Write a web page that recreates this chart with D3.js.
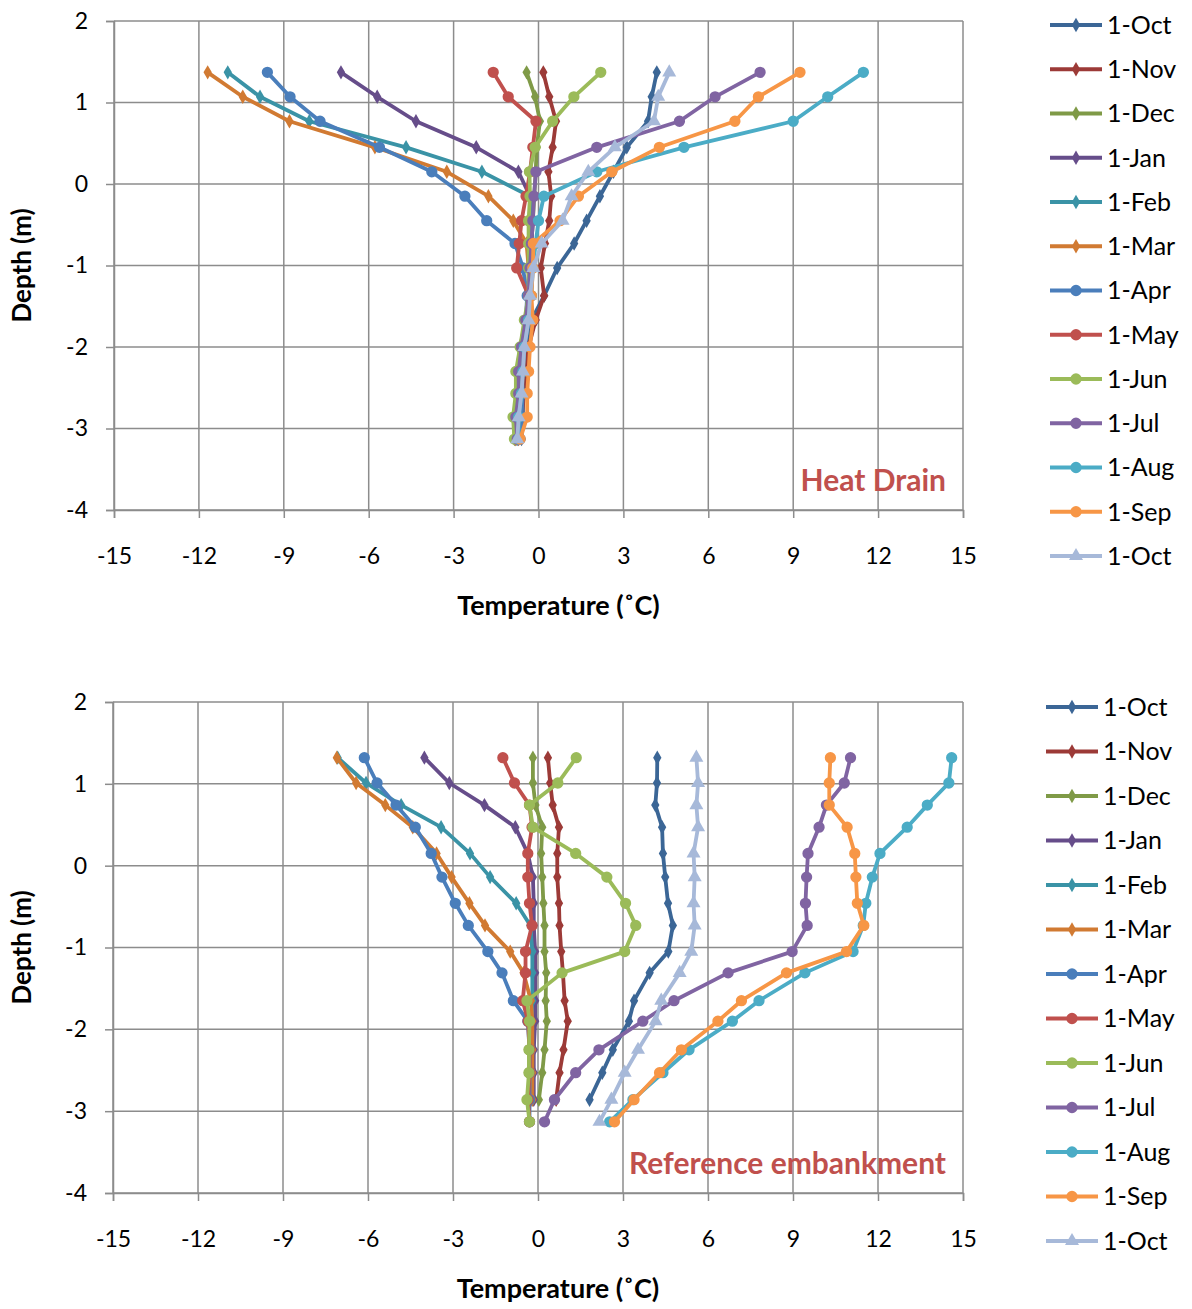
<!DOCTYPE html>
<html>
<head>
<meta charset="utf-8">
<script src="https://cdn.jsdelivr.net/npm/d3@7"></script>
<style>
  body { margin: 0; background: #fff; }
  text { font-family: Lato, "Open Sans", sans-serif; fill: #000; }
</style>
</head>
<body>
<div id="chart"></div>
<script>
// months of the profiles (legend order)
const months = ['1-Oct', '1-Nov', '1-Dec', '1-Jan', '1-Feb', '1-Mar', '1-Apr',
                '1-May', '1-Jun', '1-Jul', '1-Aug', '1-Sep', '1-Oct'];
const colors = ['#3b6696', '#9c3a37', '#7f9a47', '#664d8a', '#3a93a6', '#d17a32', '#4a7ebb',
                '#c0504d', '#9bbb59', '#8064a2', '#4bacc6', '#f79646', '#a7b9d9'];
const shapes = ['diamond', 'diamond', 'diamond', 'diamond', 'diamond', 'diamond', 'circle',
                'circle', 'circle', 'circle', 'circle', 'circle', 'triangle'];

const xTicks = [-15, -12, -9, -6, -3, 0, 3, 6, 9, 12, 15];
const yTicks = [2, 1, 0, -1, -2, -3, -4];

// Heat drain depths (m) and temperatures (C), one array per month
const depthsDrain = [1.37, 1.07, 0.77, 0.45, 0.15, -0.15, -0.45, -0.73, -1.03, -1.37, -1.67, -2.0, -2.3, -2.57, -2.86, -3.13];
const drainOct = [4.18, 4.0, 3.87, 3.12, 2.65, 2.17, 1.7, 1.26, 0.66, 0.2, -0.25, -0.45, -0.5, -0.55, -0.55, -0.6];
const drainNov = [0.17, 0.38, 0.62, 0.5, 0.35, 0.45, 0.38, 0.23, 0.08, 0.2, -0.1, -0.35, -0.45, -0.5, -0.6, -0.7];
const drainDec = [-0.42, -0.12, 0.05, -0.06, -0.1, -0.15, -0.2, -0.25, -0.3, -0.3, -0.45, -0.65, -0.75, -0.75, -0.85, -0.85];
const drainJan = [-6.98, -5.7, -4.33, -2.2, -0.71, -0.3, -0.2, -0.25, -0.3, -0.3, -0.4, -0.6, -0.7, -0.75, -0.8, -0.8];
const drainFeb = [-10.98, -9.84, -8.1, -4.68, -2.0, -0.3, -0.25, -0.3, -0.3, -0.3, -0.4, -0.55, -0.6, -0.7, -0.7, -0.75];
const drainMar = [-11.69, -10.45, -8.8, -5.78, -3.24, -1.77, -0.89, -0.42, -0.35, -0.35, -0.4, -0.55, -0.65, -0.7, -0.75, -0.8];
const drainApr = [-9.58, -8.78, -7.72, -5.62, -3.77, -2.6, -1.83, -0.83, -0.55, -0.4, -0.45, -0.55, -0.6, -0.55, -0.6, -0.65];
const drainMay = [-1.6, -1.07, -0.09, -0.2, -0.3, -0.44, -0.6, -0.68, -0.77, -0.35, -0.45, -0.55, -0.65, -0.7, -0.75, -0.8];
const drainJun = [2.2, 1.25, 0.5, -0.12, -0.32, -0.3, -0.35, -0.35, -0.35, -0.35, -0.5, -0.65, -0.8, -0.8, -0.9, -0.85];
const drainJul = [7.83, 6.24, 4.98, 2.06, -0.09, -0.16, -0.2, -0.25, -0.3, -0.35, -0.45, -0.6, -0.7, -0.7, -0.8, -0.75];
const drainAug = [11.48, 10.22, 9.0, 5.14, 2.06, 0.19, 0.0, -0.1, -0.2, -0.25, -0.35, -0.5, -0.55, -0.6, -0.7, -0.7];
const drainSep = [9.24, 7.77, 6.94, 4.27, 2.59, 1.41, 0.76, -0.18, -0.2, -0.25, -0.2, -0.3, -0.35, -0.4, -0.4, -0.65];
const drainOct2 = [4.62, 4.23, 4.08, 2.7, 1.76, 1.17, 0.85, 0.11, -0.18, -0.3, -0.35, -0.5, -0.55, -0.6, -0.7, -0.75];

// Reference embankment
const depthsRef = [1.32, 1.01, 0.74, 0.47, 0.15, -0.14, -0.46, -0.73, -1.05, -1.31, -1.65, -1.9, -2.25, -2.53, -2.86, -3.13];
const refOct = [4.21, 4.2, 4.14, 4.38, 4.41, 4.49, 4.59, 4.76, 4.6, 3.94, 3.39, 3.21, 2.64, 2.27, 1.82, null];
const refNov = [0.35, 0.43, 0.52, 0.74, 0.68, 0.68, 0.74, 0.76, 0.82, 0.88, 0.94, 1.05, 0.9, 0.76, 0.64, null];
const refDec = [-0.18, -0.18, -0.09, 0.15, 0.11, 0.15, 0.19, 0.23, 0.23, 0.29, 0.27, 0.31, 0.23, 0.15, 0.03, null];
const refJan = [-4.01, -3.13, -1.89, -0.8, -0.36, -0.18, -0.15, -0.15, -0.1, -0.1, -0.1, -0.1, -0.15, -0.15, -0.15, null];
const refFeb = [-7.07, -6.07, -4.83, -3.42, -2.4, -1.69, -0.77, -0.27, -0.2, -0.2, -0.2, -0.25, -0.25, -0.25, -0.25, null];
const refMar = [-7.1, -6.42, -5.39, -4.42, -3.58, -3.05, -2.42, -1.87, -0.98, -0.51, -0.25, -0.2, -0.2, -0.2, -0.2, null];
const refApr = [-6.13, -5.68, -5.01, -4.33, -3.77, -3.39, -2.92, -2.46, -1.77, -1.27, -0.87, -0.36, -0.3, -0.3, -0.3, -0.3];
const refMay = [-1.24, -0.83, -0.3, -0.21, -0.36, -0.36, -0.3, -0.21, -0.44, -0.44, -0.54, -0.35, -0.3, -0.3, -0.35, -0.3];
const refJun = [1.35, 0.7, -0.3, -0.18, 1.33, 2.43, 3.09, 3.45, 3.06, 0.85, -0.39, -0.3, -0.32, -0.32, -0.39, -0.3];
const refJul = [11.03, 10.81, 10.18, 9.92, 9.53, 9.48, 9.44, 9.5, 8.97, 6.71, 4.8, 3.7, 2.15, 1.33, 0.58, 0.23];
const refAug = [14.6, 14.5, 13.74, 13.03, 12.07, 11.8, 11.57, 11.48, 11.12, 9.42, 7.8, 6.86, 5.33, 4.41, 3.35, 2.53];
const refSep = [10.32, 10.28, 10.28, 10.91, 11.18, 11.22, 11.27, 11.5, 10.89, 8.77, 7.18, 6.35, 5.06, 4.29, 3.39, 2.7];
const refOct2 = [5.59, 5.65, 5.59, 5.65, 5.49, 5.53, 5.49, 5.53, 5.41, 5.0, 4.35, 4.15, 3.53, 3.06, 2.59, 2.17];

const drainSeries = [drainOct, drainNov, drainDec, drainJan, drainFeb, drainMar, drainApr,
                     drainMay, drainJun, drainJul, drainAug, drainSep, drainOct2];
const refSeries = [refOct, refNov, refDec, refJan, refFeb, refMar, refApr,
                   refMay, refJun, refJul, refAug, refSep, refOct2];

const width = 1192, height = 1309;
const svg = d3.select('#chart').append('svg')
  .attr('width', width)
  .attr('height', height);

const symbolFor = {
  diamond: d3.symbol().type(d3.symbolDiamond).size(60),
  circle: d3.symbol().type(d3.symbolCircle).size(100),
  triangle: d3.symbol().type(d3.symbolTriangle).size(85)
};

function drawPanel(cfg) {
  const x = d3.scaleLinear().domain([-15, 15]).range([cfg.left, cfg.right]);
  const y = d3.scaleLinear().domain([2, -4]).range([cfg.top, cfg.bottom]);
  const g = svg.append('g');

  // grid
  g.selectAll('.vgrid').data(xTicks).enter().append('line')
    .attr('x1', d => x(d)).attr('x2', d => x(d))
    .attr('y1', cfg.top).attr('y2', cfg.bottom)
    .attr('stroke', '#8c8c8c').attr('stroke-width', 1.5);
  g.selectAll('.hgrid').data(yTicks).enter().append('line')
    .attr('x1', cfg.left).attr('x2', cfg.right)
    .attr('y1', d => y(d)).attr('y2', d => y(d))
    .attr('stroke', '#8c8c8c').attr('stroke-width', 1.5);

  // axes (plain hyphen for negatives, like the original)
  const fmt = d => String(d);
  const xAxis = g.append('g')
    .attr('transform', `translate(0,${cfg.bottom})`)
    .call(d3.axisBottom(x).tickValues(xTicks).tickSize(8).tickPadding(30).tickFormat(fmt));
  const yAxis = g.append('g')
    .attr('transform', `translate(${cfg.left},0)`)
    .call(d3.axisLeft(y).tickValues(yTicks).tickSize(8).tickPadding(18).tickFormat(fmt));
  [xAxis, yAxis].forEach(a => {
    a.select('.domain').attr('stroke', '#8c8c8c').attr('stroke-width', 1.5);
    a.selectAll('.tick line').attr('stroke', '#8c8c8c').attr('stroke-width', 1.5);
    a.selectAll('.tick text').attr('font-size', 23).attr('font-family', 'Lato').attr('fill', '#000');
  });
  xAxis.selectAll('.tick text').attr('dy', '0.71em');

  // titles
  g.append('text')
    .attr('x', (cfg.left + cfg.right) / 2 + 20).attr('y', cfg.bottom + 105)
    .attr('text-anchor', 'middle').attr('font-size', 27).attr('font-weight', 'bold')
    .text('Temperature (˚C)');
  g.append('text')
    .attr('transform', `translate(31,${(cfg.top + cfg.bottom) / 2 + 0}) rotate(-90)`)
    .attr('text-anchor', 'middle').attr('font-size', 26).attr('font-weight', 'bold')
    .text('Depth (m)');
  g.append('text')
    .attr('x', x(14.4)).attr('y', y(-3.77))
    .attr('text-anchor', 'end').attr('font-size', 30).attr('font-weight', 'bold')
    .style('fill', '#c0504d')
    .text(cfg.label);

  // profiles
  const line = d3.line()
    .defined(d => d.t != null)
    .x(d => x(d.t)).y(d => y(d.z));

  cfg.series.forEach((vals, i) => {
    const pts = vals.map((t, k) => ({ t: t, z: cfg.depths[k] }));
    g.append('path')
      .attr('d', line(pts))
      .attr('fill', 'none')
      .attr('stroke', colors[i])
      .attr('stroke-width', 3.8)
      .attr('stroke-linejoin', 'round');
    g.selectAll(null).data(pts.filter(d => d.t != null)).enter().append('path')
      .attr('d', symbolFor[shapes[i]])
      .attr('transform', d => `translate(${x(d.t)},${y(d.z)})`)
      .attr('fill', colors[i]);
  });

  // legend
  const leg = g.append('g');
  months.forEach((m, i) => {
    const ly = cfg.legTop + i * cfg.legStep;
    leg.append('line')
      .attr('x1', cfg.legX).attr('x2', cfg.legX + 52)
      .attr('y1', ly).attr('y2', ly)
      .attr('stroke', colors[i]).attr('stroke-width', 3.8);
    leg.append('path')
      .attr('d', symbolFor[shapes[i]])
      .attr('transform', `translate(${cfg.legX + 26},${ly})`)
      .attr('fill', colors[i]);
    leg.append('text')
      .attr('x', cfg.legX + 57).attr('y', ly)
      .attr('dy', '0.35em')
      .attr('font-size', 25)
      .text(m);
  });
}

drawPanel({
  left: 114, right: 963, top: 21, bottom: 510,
  depths: depthsDrain, series: drainSeries, label: 'Heat Drain',
  legX: 1050, legTop: 25, legStep: 44.25
});
drawPanel({
  left: 113, right: 963, top: 702, bottom: 1193,
  depths: depthsRef, series: refSeries, label: 'Reference embankment',
  legX: 1046, legTop: 707, legStep: 44.5
});
</script>
</body>
</html>
